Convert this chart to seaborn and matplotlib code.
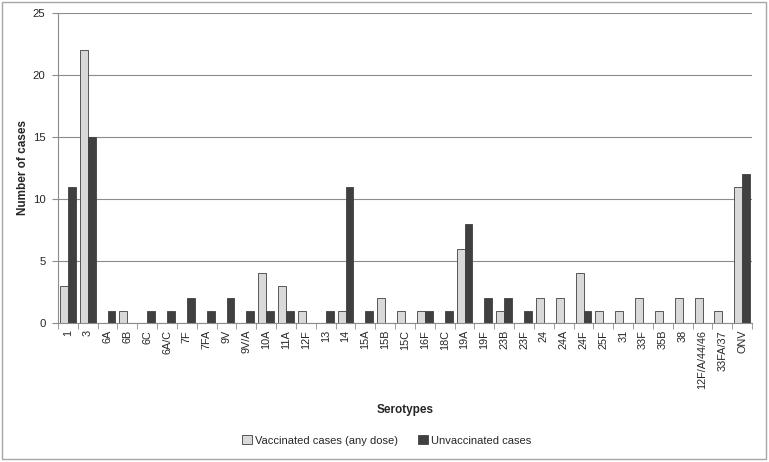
import numpy as np
import pandas as pd
import seaborn as sns
import matplotlib.pyplot as plt
from matplotlib.patches import Rectangle, Patch

#Data----------------------------------------------------------------------

serotypes = ["1", "3", "6A", "6B", "6C", "6A/C", "7F", "7FA", "9V", "9V/A",
             "10A", "11A", "12F", "13", "14", "15A", "15B", "15C", "16F", "18C",
             "19A", "19F", "23B", "23F", "24", "24A", "24F", "25F", "31", "33F",
             "35B", "38", "12F/A/44/46", "33FA/37", "ONV"]
vaccinated = [3, 22, 0, 1, 0, 0, 0, 0, 0, 0,
              4, 3, 1, 0, 1, 0, 2, 1, 1, 0,
              6, 0, 1, 0, 2, 2, 4, 1, 1, 2,
              1, 2, 2, 1, 11]
unvaccinated = [11, 15, 1, 0, 1, 1, 2, 1, 2, 1,
                1, 1, 0, 1, 11, 1, 0, 0, 1, 1,
                8, 2, 2, 1, 0, 0, 1, 0, 0, 0,
                0, 0, 0, 0, 12]
groups = ["Vaccinated cases (any dose)", "Unvaccinated cases"]
colors = ["#d9d9d9", "#404040"]

df = pd.DataFrame({
    "Serotype": serotypes * 2,
    "Cases": vaccinated + unvaccinated,
    "Group": [groups[0]] * len(serotypes) + [groups[1]] * len(serotypes),
})

#Plot----------------------------------------------------------------------

sns.set_style("white")
plt.rcParams["font.family"] = ["Liberation Sans", "DejaVu Sans"]

fig = plt.figure(figsize=(7.69, 4.62), dpi=100)
ax = fig.add_axes([0.0754, 0.301, 0.9026, 0.671])

sns.barplot(data=df, x="Serotype", y="Cases", hue="Group", order=serotypes,
            hue_order=groups, palette=colors, width=0.8, ax=ax,
            edgecolor="#404040", linewidth=0.6, legend=False)

ax.set_ylim(0, 25)
ax.set_xlim(-0.5, len(serotypes) - 0.5)
ax.set_yticks(range(0, 26, 5))
ax.yaxis.grid(True, color="#8c8c8c", linewidth=0.8)
ax.set_axisbelow(True)
for side in ["top", "right"]:
    ax.spines[side].set_visible(False)
ax.spines["left"].set_color("#8c8c8c")
ax.spines["bottom"].set_color("#8c8c8c")

# excel-style ticks between categories
ax.set_xticks(np.arange(len(serotypes)))
ax.set_xticklabels(serotypes, rotation=90, fontsize=7.8)
ax.set_xticks(np.arange(-0.5, len(serotypes)), minor=True)
ax.tick_params(axis="x", which="major", length=0, pad=5)
ax.tick_params(axis="x", which="minor", length=4, color="#8c8c8c", bottom=True)
ax.tick_params(axis="y", length=4, color="#8c8c8c", left=True, labelsize=8.2, pad=5)

ax.set_xlabel("Serotypes", fontsize=8.5, fontweight="bold", labelpad=11)
ax.set_ylabel("Number of cases", fontsize=8.5, fontweight="bold", labelpad=3)

handles = [Patch(facecolor=c, edgecolor="#404040", linewidth=0.6) for c in colors]
fig.legend(handles, groups, loc="center", bbox_to_anchor=(0.503, 0.047), ncol=2,
           frameon=False, fontsize=8, handlelength=0.9, handleheight=0.9,
           handletextpad=0.25, columnspacing=1.8)

fig.patches.append(Rectangle((0.002, 0.006), 0.994, 0.99, transform=fig.transFigure,
                             fill=False, edgecolor="#a6a6a6", linewidth=1))

fig.savefig("out.png", dpi=100)
